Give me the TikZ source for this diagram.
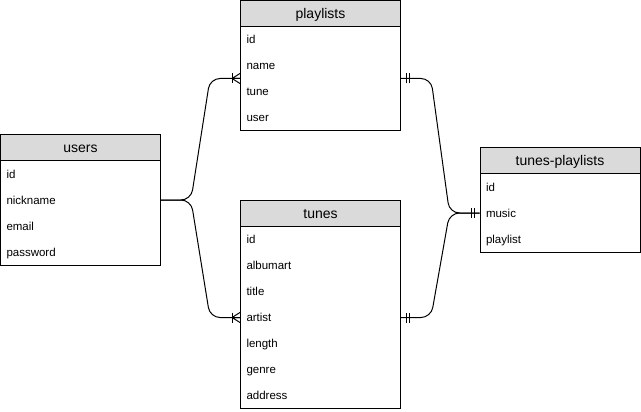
\documentclass[tikz,border=0pt]{standalone}
\usepackage{fontspec}
\setmainfont{Liberation Sans}
\usepackage{tikz}
\definecolor{xgrey}{RGB}{218,218,218}
\tikzset{
  tabhead/.style={draw, rectangle, fill=xgrey, minimum width=160pt, minimum height=26pt, inner sep=0pt, text height=10pt, text depth=0pt, font=\fontsize{14}{16}\selectfont},
  tabbody/.style={draw, rectangle, minimum width=160pt, inner sep=0pt},
  field/.style={anchor=west, inner sep=0pt, text height=8.5pt, text depth=0pt, font=\fontsize{11.5}{13}\selectfont},
  rel/.style={rounded corners=10pt},
  manyend/.pic={\draw (-8,-5) -- (-8,5); \draw (-8,0) -- (0,-5) (-8,0) -- (0,0) (-8,0) -- (0,5);},
  oneend/.pic={\draw (-8,-5) -- (-8,5) (-5,-5) -- (-5,5);}
}
\begin{document}
\begin{tikzpicture}[x=1pt, y=-1pt, line width=1pt]
\useasboundingbox (0,0) rectangle (641,412);
% users
\node[tabhead] at (80.5, 148) (users) {users};
\node[tabbody, minimum height=104pt] at (80.5, 213) (usersbody) {};
\node[field] at (6, 174) (users-id) {id};
\node[field] at (6, 200) (users-nickname) {nickname};
\node[field] at (6, 226) (users-email) {email};
\node[field] at (6, 252) (users-password) {password};
% playlists
\node[tabhead] at (320.5, 13.5) (playlists) {playlists};
\node[tabbody, minimum height=104pt] at (320.5, 78.5) (playlistsbody) {};
\node[field] at (246, 39.5) (playlists-id) {id};
\node[field] at (246, 65.5) (playlists-name) {name};
\node[field] at (246, 91.5) (playlists-tune) {tune};
\node[field] at (246, 117.5) (playlists-user) {user};
% tunes
\node[tabhead] at (320.5, 213.5) (tunes) {tunes};
\node[tabbody, minimum height=182pt] at (320.5, 317.5) (tunesbody) {};
\node[field] at (246, 239.5) (tunes-id) {id};
\node[field] at (246, 265.5) (tunes-albumart) {albumart};
\node[field] at (246, 291.5) (tunes-title) {title};
\node[field] at (246, 317.5) (tunes-artist) {artist};
\node[field] at (246, 343.5) (tunes-length) {length};
\node[field] at (246, 369.5) (tunes-genre) {genre};
\node[field] at (246, 395.5) (tunes-address) {address};
% tunes-playlists
\node[tabhead] at (560, 161) (tp) {tunes-playlists};
\node[tabbody, minimum height=78pt] at (560, 213) (tpbody) {};
\node[field] at (485.5, 187) (tp-id) {id};
\node[field] at (485.5, 213) (tp-music) {music};
\node[field] at (485.5, 239) (tp-playlist) {playlist};
% relations
\coordinate (u1) at (usersbody.east |- users-nickname.west);
\draw[rel] (u1) -- ++(30,0) -- ([xshift=-30pt]playlistsbody.west) -- (playlistsbody.west);
\draw[rel] (u1) -- ++(30,0) -- ([xshift=-30pt]tunesbody.west) -- (tunesbody.west);
\draw[rel] (playlistsbody.east) -- ++(30,0) -- ([xshift=-30pt]tpbody.west) -- (tpbody.west);
\draw[rel] (tunesbody.east) -- ++(30,0) -- ([xshift=-30pt]tpbody.west) -- (tpbody.west);
\pic at (playlistsbody.west) {manyend};
\pic at (tunesbody.west) {manyend};
\pic[rotate=180] at (playlistsbody.east) {oneend};
\pic[rotate=180] at (tunesbody.east) {oneend};
\pic at (tpbody.west) {oneend};
\end{tikzpicture}
\end{document}
